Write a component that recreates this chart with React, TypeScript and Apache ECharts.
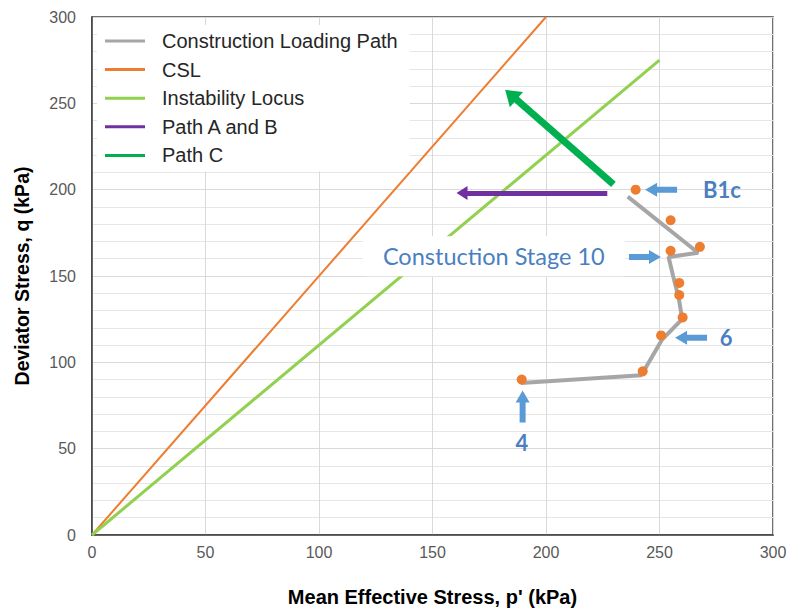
import React, { useEffect, useRef } from "react";
import * as echarts from "echarts";

const xTicks = [0, 50, 100, 150, 200, 250, 300];
const yTicks = [0, 50, 100, 150, 200, 250, 300];

const cslLine = [[0, 0], [200, 300]];
const instabilityLine = [[0, 0], [250, 275]];
const loadingPath = [
  [189, 88], [242, 92.5], [251, 113], [260, 125], [258.5, 137],
  [256, 150], [254, 161], [267, 163.5], [236, 196],
];
const stagePoints = [
  [189.3, 90], [242.6, 94.8], [250.7, 115.6], [260.2, 126], [258.7, 139],
  [258.7, 146], [254.9, 164.6], [267.8, 166.9], [254.9, 182.3], [239.5, 200],
];
const pathAB = [[227, 198], [163, 198]];
const pathC = [[229.7, 203], [184.5, 255]];

const annotArrowPos = [[250.7, 200], [243.6, 161], [263.9, 114.2], [189.7, 74.4]];
const annotArrowDir = [180, 0, 180, 90];
const annotLabelNames = ["B1c", "6", "4"];
const annotLabelPos = [[277.5, 200], [279.3, 114.2], [189.4, 53.6]];
const stageLabelName = "Constuction Stage 10";
const stageLabelPos = [177, 161.5];

const legendNames = ["Construction Loading Path", "CSL", "Instability Locus", "Path A and B", "Path C"];

const ARROW = "path://M0,4L20,4L20,0L32,7L20,14L20,10L0,10Z";
const BLUE = "#5b9bd5";
const TEXT_BLUE = "#4a7fc1";
const SANS = "Liberation Sans, Arial";

export default function App() {
  const ref = useRef<HTMLDivElement>(null);
  useEffect(() => {
    if (!ref.current) return;
    const chart = echarts.init(ref.current, null, { renderer: "svg" });
    chart.setOption({
      animation: false,
      backgroundColor: "#fff",
      grid: {
        left: 92, right: 18, top: 17, bottom: 75,
        show: true, borderColor: "#404040", borderWidth: 1.5,
      },
      legend: {
        data: legendNames.map((n) => ({ name: n, icon: "rect" })),
        orient: "vertical",
        left: 97, top: 25,
        backgroundColor: "#fff",
        padding: [6, 12, 6, 8],
        itemWidth: 40, itemHeight: 3, itemGap: 8.6,
        textStyle: { fontFamily: SANS, fontSize: 20, color: "#262626", padding: [0, 0, 0, 12] },
      },
      xAxis: {
        type: "value", min: xTicks[0], max: xTicks[xTicks.length - 1], interval: 50,
        name: "Mean Effective Stress, p' (kPa)", nameLocation: "middle", nameGap: 52,
        nameTextStyle: { fontFamily: SANS, fontSize: 20, fontWeight: "bold", color: "#000" },
        axisLine: { show: true, lineStyle: { color: "#404040", width: 1.5 } },
        axisTick: { show: false },
        axisLabel: { fontFamily: SANS, fontSize: 16, color: "#595959", margin: 9 },
        splitLine: { show: true, lineStyle: { color: "#d9d9d9", width: 1 } },
      },
      yAxis: {
        type: "value", min: yTicks[0], max: yTicks[yTicks.length - 1], interval: 50,
        name: "Deviator Stress, q (kPa)", nameLocation: "middle", nameGap: 60,
        nameTextStyle: { fontFamily: SANS, fontSize: 19.5, fontWeight: "bold", color: "#000" },
        axisLine: { show: true, lineStyle: { color: "#404040", width: 1.5 } },
        axisTick: { show: false },
        axisLabel: { fontFamily: SANS, fontSize: 16, color: "#595959", margin: 16 },
        splitLine: { show: true, lineStyle: { color: "#d9d9d9", width: 1 } },
        minorTick: { show: false, splitNumber: 5 },
        minorSplitLine: { show: true, lineStyle: { color: "#e6e6e6", width: 1 } },
      },
      series: [
        {
          name: "CSL", type: "line", data: cslLine, showSymbol: false, symbol: "none",
          color: "#ed7d31", lineStyle: { color: "#ed7d31", width: 2 }, z: 2,
        },
        {
          name: "Instability Locus", type: "line", data: instabilityLine, showSymbol: false, symbol: "none",
          color: "#92d050", lineStyle: { color: "#92d050", width: 3 }, z: 2,
        },
        {
          name: "Construction Loading Path", type: "line", data: loadingPath, showSymbol: false, symbol: "none",
          color: "#a6a6a6", lineStyle: { color: "#a6a6a6", width: 4 }, z: 3,
        },
        {
          name: "Stages", type: "scatter", data: stagePoints, symbol: "circle", symbolSize: 10,
          itemStyle: { color: "#ed7d31", opacity: 1 }, z: 4,
        },
        {
          name: "Path A and B", type: "line", data: [], color: "#7030a0",
          markLine: {
            silent: true, symbol: ["none", "triangle"], symbolSize: [14, 11],
            label: { show: false },
            lineStyle: { color: "#7030a0", width: 5, type: "solid", opacity: 1 },
            data: [[{ coord: pathAB[0] }, { coord: pathAB[1] }]],
          },
          z: 3,
        },
        {
          name: "Path C", type: "line", data: [], color: "#00b050",
          markLine: {
            silent: true, symbol: ["none", "triangle"], symbolSize: [20, 15],
            label: { show: false },
            lineStyle: { color: "#00b050", width: 7, type: "solid", opacity: 1 },
            data: [[{ coord: pathC[0] }, { coord: pathC[1] }]],
          },
          z: 3,
        },
        {
          name: "annotArrows", type: "scatter",
          data: annotArrowPos.map((p, i) => ({ value: p, symbolRotate: annotArrowDir[i] })),
          symbol: ARROW, symbolSize: [32, 14],
          itemStyle: { color: BLUE, opacity: 1 }, z: 5,
        },
        {
          name: "annotLabels", type: "scatter",
          data: annotLabelPos.map((p, i) => ({ name: annotLabelNames[i], value: p })),
          symbolSize: 0,
          itemStyle: { opacity: 1 },
          label: {
            show: true, position: "inside", formatter: "{b}", opacity: 1,
            fontFamily: "Lato, Noto Sans", fontWeight: "bold", fontSize: 22, color: TEXT_BLUE,
          },
          z: 5,
        },
        {
          name: "stageLabel", type: "scatter",
          data: [{ name: stageLabelName, value: stageLabelPos }],
          symbolSize: 0,
          itemStyle: { opacity: 1 },
          label: {
            show: true, position: "inside", formatter: "{b}", opacity: 1,
            fontFamily: "Lato, Noto Sans", fontSize: 23.5, color: TEXT_BLUE,
            backgroundColor: "#fff", padding: [8, 20, 8, 20],
          },
          z: 6,
        },
      ],
    });
    return () => chart.dispose();
  }, []);
  return <div ref={ref} style={{ width: 791, height: 612, position: "absolute", left: 0, top: 0 }} />;
}
